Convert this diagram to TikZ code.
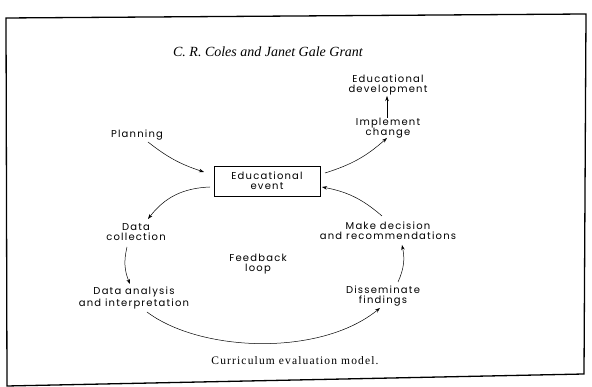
\documentclass[tikz,border=0pt]{standalone}
\usepackage{fontspec}
\setmainfont{Liberation Serif}
\newfontfamily\diagfont[LetterSpace=12]{Poppins}
\newfontfamily\capfont[LetterSpace=10]{Liberation Serif}
\usetikzlibrary{arrows.meta}
\begin{document}
\begin{tikzpicture}[x=1pt,y=1pt,
  lbl/.style={inner sep=1pt,align=center,font=\diagfont\fontsize{10}{10}\selectfont},
  evbox/.style={lbl,draw,line width=0.7pt,minimum width=106pt,minimum height=30pt},
  arr/.style={-{Stealth[length=5pt,width=3.5pt]},line width=0.5pt}]
\useasboundingbox (0,0) rectangle (592,387);
% frame
\draw[line width=1.3pt] (6,369) -- (586,373) -- (584,13) -- (7,1) -- cycle;
% title and caption
\node (title) at (268,335) {\fontsize{14}{16}\selectfont\itshape C. R. Coles and Janet Gale Grant};
\node (cap) at (295,26) {\capfont\fontsize{11.5}{13}\selectfont Curriculum evaluation model.};
% nodes
\node[lbl] (dev) at (388,302) {Educational\\development};
\node[lbl] (impl) at (388,259) {Implement\\change};
\node[lbl] (plan) at (137,252) {Planning};
\node[evbox] (event) at (267,206) {Educational\\event};
\node[lbl] (coll) at (136,155) {Data\\collection};
\node[lbl] (anal) at (134,89) {Data analysis\\and interpretation};
\node[lbl] (diss) at (383,91) {Disseminate\\findings};
\node[lbl] (dec) at (388,156) {Make decision\\and recommendations};
\node[lbl] (fb) at (258,123) {Feedback\\loop};
% connectors
\draw[arr] ([shift={(-1,10)}]impl.center) -- ([shift={(-1,-11)}]dev.center);
\draw[arr] ([shift={(11,-7)}]plan.center) to[bend right=10] ([shift={(-63,9)}]event.center);
\draw[arr] ([shift={(-57,-6)}]event.center) to[bend right=25] ([shift={(12,13)}]coll.center);
\draw[arr] ([shift={(-9,-15)}]coll.center) to[bend right=18] ([shift={(-4,14)}]anal.center);
\draw[arr] ([shift={(13,-14)}]anal.center) .. controls (200,35) and (320,30) .. ([shift={(-3,-12)}]diss.center);
\draw[arr] ([shift={(15,14)}]diss.center) to[bend right=18] ([shift={(14,-14)}]dec.center);
\draw[arr] ([shift={(-6,15)}]dec.center) to[bend right=15] ([shift={(55,-6)}]event.center);
\draw[arr] ([shift={(58,8)}]event.center) to[bend right=12] ([shift={(-1,-10)}]impl.center);
\end{tikzpicture}
\end{document}
